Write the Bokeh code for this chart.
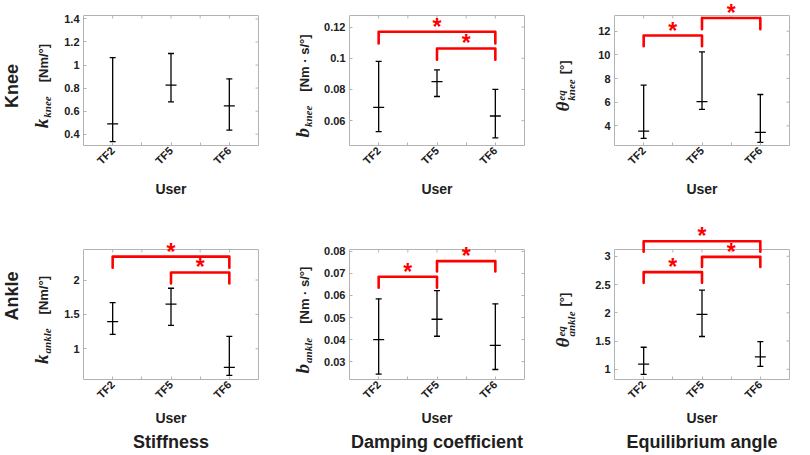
import math
from bokeh.plotting import figure
from bokeh.layouts import column, row
from bokeh.models import Range1d, FixedTicker, CustomJSTickFormatter, Label, LinearAxis, Div
from bokeh.embed import file_html
from bokeh.resources import INLINE

# ---------------- data ----------------
users = ["TF2", "TF5", "TF6"]

knee_k_mean = [0.49, 0.825, 0.645]
knee_k_low = [0.335, 0.68, 0.435]
knee_k_high = [1.065, 1.10, 0.88]
knee_k_ticks = [0.4, 0.6, 0.8, 1, 1.2, 1.4]
knee_k_br_from, knee_k_br_to, knee_k_br_top, knee_k_br_leg = [], [], [], []

knee_b_mean = [0.0685, 0.085, 0.063]
knee_b_low = [0.053, 0.0755, 0.049]
knee_b_high = [0.098, 0.0925, 0.080]
knee_b_ticks = [0.06, 0.08, 0.1, 0.12]
knee_b_br_from = ["TF2", "TF5"]
knee_b_br_to = ["TF6", "TF6"]
knee_b_br_top = [0.117, 0.1063]
knee_b_br_leg = [0.1095, 0.0991]

knee_th_mean = [3.55, 6.05, 3.45]
knee_th_low = [2.95, 5.4, 2.6]
knee_th_high = [7.45, 10.25, 6.65]
knee_th_ticks = [4, 6, 8, 10, 12]
knee_th_br_from = ["TF2", "TF5"]
knee_th_br_to = ["TF5", "TF6"]
knee_th_br_top = [11.63, 13.12]
knee_th_br_leg = [10.73, 12.17]

ankle_k_mean = [1.396, 1.65, 0.73]
ankle_k_low = [1.21, 1.34, 0.614]
ankle_k_high = [1.67, 1.88, 1.18]
ankle_k_ticks = [1, 1.5, 2]
ankle_k_br_from = ["TF2", "TF5"]
ankle_k_br_to = ["TF6", "TF6"]
ankle_k_br_top = [2.34, 2.11]
ankle_k_br_leg = [2.18, 1.95]

ankle_b_mean = [0.040, 0.0492, 0.0374]
ankle_b_low = [0.0243, 0.0415, 0.0264]
ankle_b_high = [0.0585, 0.0622, 0.0562]
ankle_b_ticks = [0.03, 0.04, 0.05, 0.06, 0.07, 0.08]
ankle_b_br_from = ["TF2", "TF5"]
ankle_b_br_to = ["TF5", "TF6"]
ankle_b_br_top = [0.0685, 0.0756]
ankle_b_br_leg = [0.0635, 0.0709]

ankle_th_mean = [1.09, 1.97, 1.22]
ankle_th_low = [0.91, 1.58, 1.05]
ankle_th_high = [1.39, 2.40, 1.49]
ankle_th_ticks = [1, 1.5, 2, 2.5, 3]
ankle_th_br_from = ["TF2", "TF5", "TF2"]
ankle_th_br_to = ["TF6", "TF6", "TF5"]
ankle_th_br_top = [3.265, 2.99, 2.72]
ankle_th_br_leg = [3.08, 2.81, 2.53]

row_labels = ["Knee", "Ankle"]
col_titles = ["Stiffness", "Damping coefficient", "Equilibrium angle"]
x_label = "User"

# y-axis label parts: (main symbol, subscript, superscript, unit)
knee_k_ylabel = ("k", "knee", "", "[Nm/°]")
knee_b_ylabel = ("b", "knee", "", "[Nm · s/°]")
knee_th_ylabel = ("θ", "knee", "eq", "[°]")
ankle_k_ylabel = ("k", "ankle", "", "[Nm/°]")
ankle_b_ylabel = ("b", "ankle", "", "[Nm · s/°]")
ankle_th_ylabel = ("θ", "ankle", "eq", "[°]")

# ---------------- style / layout (page has no margin: canvas = page) ----------------
SANS = "Liberation Sans"
SERIF = "Liberation Serif"
BOX = "#b3b3b3"
TXT = "#202020"
RED = "#ff0000"
FRAME_W, FRAME_H = 175, 130
LAB_W = [51, 45, 50]          # width of the label strip left of each panel
PAN_L = [32, 36, 30]          # panel left border (tick labels)
PAN_R = [10, 10, 10]
EXT = [15, 34]                # frame extension above the box (brackets / stars)
BOT = [70, 76]
XLAB_STANDOFF = [7, 2]
TICK_STANDOFF = 3
TITLE_STANDOFF = 3
YLAB_CX = [-42.5, -47, -49]   # centre of y label relative to box left edge
YLAB_CY = [6, 6]              # label centre below box centre
ROWLAB_CY = [6, -18]


def ylabel_html(parts, cx, cy):
    main, sub, sup, unit = parts
    serif = f"font-family:'{SERIF}';font-style:italic;font-weight:bold;"
    if sup:
        scripts = (f'<span style="display:inline-block;vertical-align:-0.55em;line-height:0.95;'
                   f'{serif}font-size:11px;text-align:left;margin-left:1px">'
                   f'<span style="display:block">{sup}</span>'
                   f'<span style="display:block">{sub}</span></span>')
        gap = 5
    else:
        scripts = (f'<span style="{serif}font-size:11px;position:relative;top:3px;'
                   f'margin-left:1px">{sub}</span>')
        gap = 14
    return (f'<div style="position:absolute;left:{cx}px;top:{cy}px;'
            f'transform:translate(-50%,-50%) rotate(-90deg);white-space:nowrap;'
            f'line-height:1;color:{TXT}">'
            f'<span style="{serif}font-size:19px">{main}</span>{scripts}'
            f'<span style="font-family:\'{SANS}\';font-weight:bold;font-size:13px;'
            f'margin-left:{gap}px">{unit}</span></div>')


def rowlabel_html(text, cx, cy):
    return (f'<div style="position:absolute;left:{cx}px;top:{cy}px;'
            f'transform:translate(-50%,-50%) rotate(-90deg);white-space:nowrap;'
            f'line-height:1;color:{TXT};font-family:\'{SANS}\';font-weight:bold;'
            f'font-size:18px">{text}</div>')


def label_div(width, height, inner):
    return Div(text=(f'<div style="position:relative;width:{width}px;height:{height}px;'
                     f'margin:0;padding:0">{inner}</div>'),
               width=width, height=height, margin=0)


def make_panel(r, c, mean, low, high, yticks, br_from, br_to, br_top, br_leg, box_top_page):
    xs = [i + 1 for i in range(len(users))]
    y0 = 0.9 * min(low)
    y1 = 1.3 * max(high)
    ytop = y1 + (y1 - y0) * EXT[r] / FRAME_H
    p = figure(width=PAN_L[c] + FRAME_W + PAN_R[c],
               height=EXT[r] + FRAME_H + BOT[r],
               x_range=Range1d(0.5, len(users) + 0.5), y_range=Range1d(y0, ytop),
               output_backend="svg", toolbar_location=None,
               min_border_left=PAN_L[c], min_border_right=PAN_R[c],
               min_border_top=0, min_border_bottom=BOT[r])
    p.grid.visible = False
    p.outline_line_color = None
    p.background_fill_color = "white"
    p.border_fill_color = "white"

    minors = [x + 0.5 for x in xs[:-1]]
    p.xaxis.ticker = FixedTicker(ticks=xs, minor_ticks=minors)
    p.xaxis.major_label_overrides = {x: u for x, u in zip(xs, users)}
    p.xaxis.major_label_orientation = math.pi / 4
    p.xaxis.axis_label = x_label
    p.xaxis.axis_label_standoff = XLAB_STANDOFF[r]
    p.xaxis.axis_label_text_font = SANS
    p.xaxis.axis_label_text_font_style = "bold"
    p.xaxis.axis_label_text_font_size = "14px"
    p.xaxis.axis_label_text_color = TXT

    p.yaxis.ticker = FixedTicker(ticks=yticks)
    p.yaxis.formatter = CustomJSTickFormatter(code="return tick.toString()")
    p.yaxis.bounds = (y0, y1)

    for ax in (p.xaxis, p.yaxis):
        ax.axis_line_color = BOX
        ax.major_tick_line_color = BOX
        ax.minor_tick_line_color = BOX
        ax.major_tick_in = 3
        ax.major_tick_out = 0
        ax.minor_tick_in = 3
        ax.minor_tick_out = 0
        ax.major_label_text_font = SANS
        ax.major_label_text_font_style = "bold"
        ax.major_label_text_font_size = "11px"
        ax.major_label_text_color = TXT
    p.xaxis.major_label_standoff = TICK_STANDOFF
    p.yaxis.major_label_standoff = 4

    # right / top edges of the box with mirrored ticks
    right_ax = LinearAxis(ticker=FixedTicker(ticks=[]), bounds=(y0, y1), axis_line_color=BOX,
                          major_tick_out=0, major_label_standoff=0)
    p.add_layout(right_ax, "right")
    p.segment(x0=[0.5], x1=[len(users) + 0.5], y0=[y1], y1=[y1], line_color=BOX, line_width=1)
    p.ray(x=xs + minors, y=[y1] * (len(xs) + len(minors)), length=3, length_units="screen",
          angle=-math.pi / 2, line_color=BOX, line_width=1)
    p.ray(x=[len(users) + 0.5] * len(yticks), y=yticks, length=3, length_units="screen",
          angle=math.pi, line_color=BOX, line_width=1)

    if r == 1:
        t_ax = LinearAxis(ticker=FixedTicker(ticks=[]), axis_line_color=None,
                          major_tick_out=0, major_label_standoff=0,
                          axis_label_standoff=TITLE_STANDOFF,
                          axis_label=col_titles[c], axis_label_text_font=SANS,
                          axis_label_text_font_style="bold", axis_label_text_font_size="18px",
                          axis_label_text_color=TXT)
        p.add_layout(t_ax, "below")

    # error bars (range + mean)
    p.segment(x0=xs, y0=low, x1=xs, y1=high, line_color="black", line_width=1.3)
    p.scatter(x=xs, y=low, marker="dash", size=6, line_color="black", line_width=1.3)
    p.scatter(x=xs, y=high, marker="dash", size=6, line_color="black", line_width=1.3)
    p.scatter(x=xs, y=mean, marker="dash", size=11, line_color="black", line_width=1.3)

    # significance brackets with stars
    bxs, bys = [], []
    frame_top_page = box_top_page - EXT[r]
    for f, t, top, leg in zip(br_from, br_to, br_top, br_leg):
        xa, xb = users.index(f) + 1, users.index(t) + 1
        bxs.append([xa, xa, xb, xb])
        bys.append([leg, top, top, leg])
        page_y = box_top_page + (y1 - top) / (y1 - y0) * FRAME_H
        centre = max(page_y - 9, frame_top_page + 4)
        p.add_layout(Label(x=(xa + xb) / 2, y=top, text="*", text_font=SANS,
                           text_font_style="bold", text_font_size="23px", text_color=RED,
                           text_align="center", text_baseline="alphabetic",
                           y_offset=(page_y - centre) - 4))
    if bxs:
        p.multi_line(xs=bxs, ys=bys, line_color=RED, line_width=2.6,
                     line_join="round", line_cap="round")
    return p


panels = [
    [(knee_k_mean, knee_k_low, knee_k_high, knee_k_ticks, knee_k_br_from, knee_k_br_to,
      knee_k_br_top, knee_k_br_leg, knee_k_ylabel),
     (knee_b_mean, knee_b_low, knee_b_high, knee_b_ticks, knee_b_br_from, knee_b_br_to,
      knee_b_br_top, knee_b_br_leg, knee_b_ylabel),
     (knee_th_mean, knee_th_low, knee_th_high, knee_th_ticks, knee_th_br_from, knee_th_br_to,
      knee_th_br_top, knee_th_br_leg, knee_th_ylabel)],
    [(ankle_k_mean, ankle_k_low, ankle_k_high, ankle_k_ticks, ankle_k_br_from, ankle_k_br_to,
      ankle_k_br_top, ankle_k_br_leg, ankle_k_ylabel),
     (ankle_b_mean, ankle_b_low, ankle_b_high, ankle_b_ticks, ankle_b_br_from, ankle_b_br_to,
      ankle_b_br_top, ankle_b_br_leg, ankle_b_ylabel),
     (ankle_th_mean, ankle_th_low, ankle_th_high, ankle_th_ticks, ankle_th_br_from,
      ankle_th_br_to, ankle_th_br_top, ankle_th_br_leg, ankle_th_ylabel)],
]

rows = []
page_top = 0
for r in range(2):
    height = EXT[r] + FRAME_H + BOT[r]
    box_top = page_top + EXT[r]
    box_centre_local = EXT[r] + FRAME_H / 2
    figs = []
    for c in range(3):
        mean, low, high, yt, bf, bt, btop, bleg, ylab = panels[r][c]
        box_left_local = LAB_W[c] + PAN_L[c]
        inner = ylabel_html(ylab, box_left_local + YLAB_CX[c], box_centre_local + YLAB_CY[r])
        if c == 0:
            inner += rowlabel_html(row_labels[r], 11.5, box_centre_local + ROWLAB_CY[r])
        figs.append(label_div(LAB_W[c], height, inner))
        figs.append(make_panel(r, c, mean, low, high, yt, bf, bt, btop, bleg, box_top))
    rows.append(row(*figs))
    page_top += height

layout = column(*rows)
open("out.html", "w").write(file_html(layout, INLINE))
